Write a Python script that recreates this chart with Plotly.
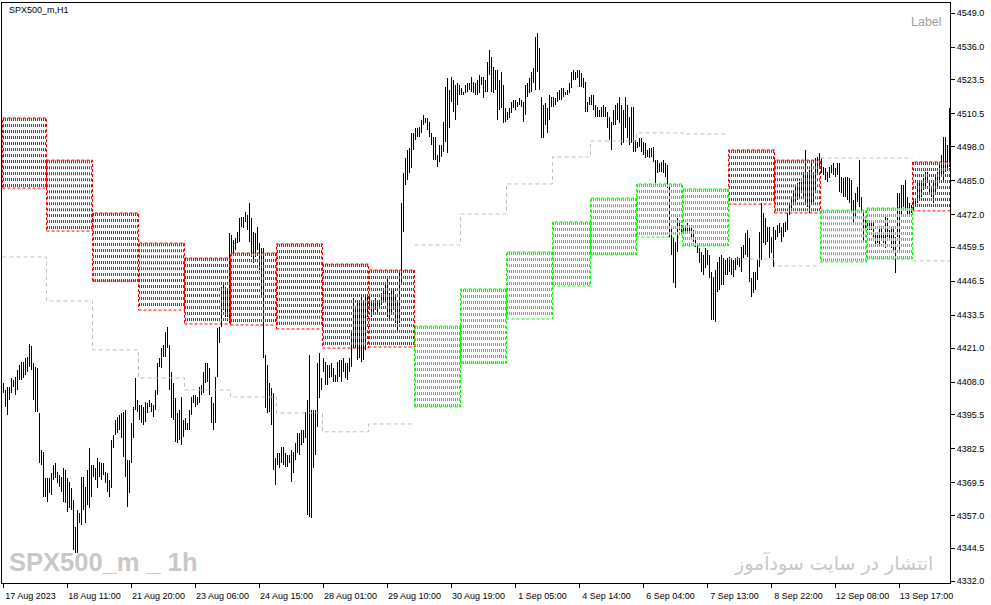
import numpy as np
import plotly.graph_objects as go

# H1 bars, SPX500_m (high / low)
highs = [
    4407.5, 4405.0, 4406.3, 4406.3, 4409.4, 4408.8, 4410.1, 4412.6, 4414.5, 4415.8,
    4415.8, 4417.1, 4417.7, 4422.5, 4421.8, 4415.2, 4413.9, 4413.3, 4396.1, 4382.1,
    4381.4, 4371.2, 4371.2, 4371.2, 4373.1, 4376.3, 4377.0, 4373.8, 4372.5, 4371.9,
    4375.0, 4374.4, 4371.2, 4369.9, 4367.4, 4362.9, 4352.8, 4359.1, 4357.9, 4371.9,
    4371.9, 4368.0, 4374.4, 4382.7, 4376.3, 4376.3, 4375.0, 4378.9, 4377.6, 4377.0,
    4377.0, 4373.8, 4373.1, 4370.6, 4385.9, 4387.8, 4393.5, 4394.8, 4395.4, 4396.1,
    4396.7, 4397.3, 4378.2, 4378.2, 4392.2, 4398.6, 4409.4, 4401.2, 4399.2, 4399.2,
    4398.6, 4400.5, 4399.9, 4401.2, 4399.9, 4399.2, 4405.0, 4415.2, 4417.1, 4420.9,
    4422.2, 4427.3, 4429.2, 4422.2, 4412.0, 4407.5, 4401.8, 4396.1, 4397.3, 4402.4,
    4393.5, 4394.2, 4392.2, 4397.3, 4402.4, 4403.1, 4403.1, 4402.4, 4406.3, 4406.9,
    4412.0, 4415.2, 4415.2, 4413.3, 4402.4, 4399.9, 4410.1, 4428.5, 4429.2, 4444.5,
    4445.7, 4444.5, 4443.2, 4464.8, 4464.2, 4462.3, 4462.9, 4465.5, 4470.6, 4471.2,
    4471.2, 4473.1, 4471.8, 4476.3,
    4470.5, 4465.5, 4464.8, 4467.4, 4461.0, 4459.1, 4459.1, 4418.3, 4414.5, 4407.5,
    4405.6, 4403.7, 4378.9, 4380.8, 4380.8, 4383.3, 4383.3, 4380.8, 4380.1, 4380.1,
    4382.0, 4381.4, 4384.6, 4388.4, 4388.4, 4389.7, 4389.7, 4396.7, 4401.1, 4418.3,
    4397.3, 4397.3, 4397.3, 4415.2, 4419.0, 4409.4, 4417.1, 4415.8, 4414.5, 4414.5,
    4415.2, 4413.3, 4410.7, 4415.8, 4416.4, 4416.4, 4417.1, 4415.2, 4415.2, 4417.1,
    4427.9, 4440.0, 4436.8, 4439.4, 4438.1, 4440.6, 4438.7, 4440.6, 4440.6, 4440.6,
    4439.4, 4438.1, 4440.0, 4439.4, 4438.7, 4441.9, 4443.2, 4445.1, 4447.6, 4441.9,
    4443.2, 4443.2, 4440.6, 4439.4, 4450.2, 4476.3, 4487.7, 4493.5, 4496.7, 4497.3,
    4503.0, 4503.0, 4504.9, 4504.9, 4505.6, 4508.1, 4510.0, 4508.7, 4508.7, 4507.5,
    4503.0, 4501.8, 4501.8, 4494.8, 4498.6, 4498.6, 4507.5, 4520.9, 4524.0, 4519.6,
    4524.7, 4523.4, 4521.5, 4522.1, 4521.5, 4520.2, 4518.9, 4521.5, 4522.1, 4522.1,
    4524.7, 4522.8, 4522.1, 4523.4, 4525.3, 4524.7, 4524.7, 4523.4, 4530.4, 4534.9,
    4532.3, 4528.5, 4527.2, 4527.2, 4523.4,
    4526.6, 4521.5, 4512.6, 4511.3, 4512.6, 4515.1, 4515.8, 4515.8, 4515.1, 4516.4,
    4515.8, 4515.1, 4521.5, 4522.1, 4524.0, 4526.6, 4527.9, 4540.0, 4541.2, 4535.5,
    4517.0, 4513.9, 4514.5, 4512.6, 4517.7, 4517.0, 4517.0, 4516.4, 4518.9, 4519.6,
    4520.2, 4520.2, 4518.9, 4519.6, 4522.1, 4526.6, 4527.2, 4526.6, 4527.2, 4527.2,
    4525.9, 4524.0, 4522.8, 4515.1, 4517.0, 4517.7, 4517.7, 4513.9, 4513.2, 4511.9,
    4513.2, 4513.9, 4513.2, 4511.3, 4509.4, 4507.5, 4511.9, 4513.9, 4514.5, 4517.0,
    4513.9, 4511.9, 4517.0, 4513.9, 4509.4, 4513.2, 4513.2, 4500.5, 4499.8, 4501.1,
    4501.1, 4499.8, 4499.2, 4496.7, 4497.3, 4497.3, 4497.9, 4492.8, 4492.8, 4491.6,
    4492.2, 4492.8, 4491.6, 4490.9, 4483.3, 4466.7, 4462.9, 4461.6, 4470.6, 4469.3,
    4468.0, 4468.0, 4467.4, 4468.6, 4467.4, 4466.7, 4466.1, 4462.9, 4461.0, 4459.1,
    4457.8, 4456.6, 4459.1, 4458.5, 4456.6, 4450.2, 4448.3, 4450.8, 4454.0, 4455.9,
    4456.6, 4455.3, 4454.6, 4455.3, 4455.9, 4455.3, 4454.6, 4455.3, 4455.9, 4455.3,
    4459.7, 4460.4, 4464.8, 4466.1, 4462.9,
    4447.6, 4450.2, 4450.2, 4454.6, 4465.5, 4476.3, 4472.5, 4470.6, 4467.4, 4467.4,
    4463.6, 4467.4, 4466.1, 4468.0, 4468.7, 4467.4, 4468.7, 4469.3, 4472.5, 4476.3,
    4478.8, 4481.4, 4483.3, 4483.9, 4484.6, 4484.6, 4488.4, 4496.7, 4488.4, 4489.0,
    4492.2, 4488.4, 4493.5, 4494.1, 4495.4, 4493.5, 4490.3, 4489.7, 4488.4, 4490.3,
    4490.9, 4491.6, 4489.7, 4491.6, 4491.6, 4486.5, 4485.8, 4486.5, 4486.5, 4485.8,
    4485.2, 4477.6, 4480.1, 4482.7, 4492.8, 4478.8, 4472.5, 4469.9, 4469.3, 4469.3,
    4468.7, 4468.7, 4465.5, 4465.5, 4466.7, 4466.7, 4465.5, 4471.2, 4470.6, 4466.1,
    4466.7, 4467.4, 4463.6, 4480.1, 4480.1, 4483.3, 4483.3, 4485.2, 4478.8, 4476.3,
    4475.7, 4477.6, 4477.6, 4483.9, 4485.2, 4483.9, 4485.8, 4488.4, 4488.4, 4485.2,
    4482.7, 4483.9, 4486.5, 4488.4, 4490.9, 4494.8, 4501.8, 4501.8, 4498.6, 4512.6,
]

lows = [
    4403.7, 4398.6, 4395.4, 4401.2, 4403.7, 4406.3, 4403.1, 4405.0, 4408.8, 4408.8,
    4409.4, 4410.7, 4412.0, 4413.9, 4412.6, 4401.2, 4396.7, 4396.7, 4376.9, 4376.3,
    4364.2, 4364.2, 4362.3, 4365.5, 4364.9, 4370.6, 4371.2, 4369.3, 4368.0, 4366.1,
    4362.3, 4361.7, 4358.5, 4359.8, 4359.1, 4343.8, 4342.6, 4342.6, 4354.0, 4353.4,
    4359.1, 4354.0, 4361.0, 4359.8, 4364.2, 4371.9, 4370.6, 4367.4, 4371.9, 4370.6,
    4372.5, 4369.3, 4366.1, 4364.2, 4367.4, 4382.7, 4387.8, 4388.4, 4389.7, 4386.5,
    4379.5, 4371.9, 4360.4, 4365.5, 4376.9, 4386.5, 4397.3, 4396.7, 4393.5, 4392.2,
    4391.6, 4392.9, 4396.1, 4398.6, 4396.7, 4394.8, 4397.3, 4403.1, 4413.9, 4413.3,
    4417.7, 4417.7, 4420.9, 4405.0, 4394.2, 4393.5, 4385.2, 4384.6, 4385.9, 4384.0,
    4387.1, 4389.7, 4389.7, 4389.7, 4395.4, 4399.9, 4398.6, 4399.2, 4399.9, 4403.1,
    4403.7, 4407.5, 4408.2, 4403.1, 4392.2, 4389.7, 4392.2, 4410.1, 4422.8, 4429.2,
    4435.5, 4433.0, 4433.0, 4430.4, 4456.5, 4456.5, 4458.5, 4461.0, 4461.6, 4467.4,
    4466.7, 4469.3, 4466.1, 4461.6,
    4455.9, 4453.4, 4455.9, 4458.5, 4450.8, 4440.6, 4417.1, 4398.0, 4396.1, 4396.7,
    4391.6, 4374.4, 4368.7, 4376.3, 4375.0, 4377.0, 4376.3, 4375.7, 4375.7, 4377.0,
    4370.0, 4373.1, 4378.2, 4380.8, 4380.1, 4384.0, 4384.6, 4386.5, 4357.2, 4356.6,
    4355.9, 4375.0, 4380.1, 4391.0, 4401.8, 4405.0, 4412.0, 4406.9, 4406.9, 4409.4,
    4410.1, 4408.2, 4408.2, 4408.2, 4410.1, 4408.2, 4412.0, 4409.4, 4408.8, 4412.0,
    4413.9, 4420.9, 4420.9, 4416.4, 4417.1, 4415.8, 4416.4, 4420.3, 4433.0, 4435.5,
    4433.0, 4433.6, 4435.5, 4434.9, 4436.2, 4437.4, 4438.1, 4439.4, 4433.0, 4431.7,
    4433.6, 4435.5, 4430.4, 4427.9, 4430.4, 4445.7, 4465.5, 4483.3, 4485.2, 4487.7,
    4489.7, 4496.7, 4500.5, 4501.8, 4501.8, 4503.0, 4506.2, 4506.8, 4504.3, 4501.8,
    4498.6, 4492.8, 4492.8, 4490.3, 4492.2, 4494.1, 4496.0, 4499.8, 4495.4, 4504.9,
    4515.1, 4511.3, 4508.1, 4513.9, 4517.7, 4517.7, 4517.7, 4518.3, 4518.9, 4519.6,
    4518.9, 4518.3, 4517.7, 4517.7, 4518.3, 4521.5, 4516.4, 4518.9, 4518.9, 4525.3,
    4518.9, 4518.3, 4519.6, 4508.1, 4511.9,
    4512.6, 4506.8, 4507.5, 4508.1, 4508.8, 4510.7, 4512.6, 4511.9, 4513.2, 4513.9,
    4513.2, 4507.5, 4510.0, 4517.0, 4518.3, 4518.9, 4522.1, 4519.6, 4526.6, 4519.6,
    4501.1, 4501.1, 4506.2, 4503.0, 4508.1, 4513.2, 4513.2, 4513.9, 4515.1, 4515.8,
    4515.8, 4517.0, 4517.7, 4517.7, 4518.3, 4520.2, 4523.4, 4523.4, 4524.0, 4520.9,
    4520.9, 4520.2, 4511.3, 4511.3, 4513.9, 4513.9, 4511.9, 4509.4, 4509.4, 4509.4,
    4509.4, 4509.4, 4509.4, 4504.9, 4500.5, 4496.7, 4506.2, 4506.2, 4508.1, 4506.8,
    4498.6, 4499.2, 4504.9, 4501.1, 4498.6, 4499.2, 4496.0, 4496.0, 4497.3, 4497.9,
    4496.0, 4494.8, 4493.5, 4494.1, 4493.5, 4494.1, 4492.2, 4483.9, 4487.7, 4488.4,
    4488.4, 4487.7, 4486.5, 4482.0, 4463.5, 4456.6, 4445.7, 4443.8, 4457.8, 4466.1,
    4464.8, 4465.5, 4464.8, 4464.8, 4464.8, 4462.9, 4461.6, 4459.7, 4457.2, 4453.4,
    4450.2, 4448.9, 4451.5, 4452.7, 4447.6, 4431.7, 4431.7, 4431.1, 4442.5, 4443.2,
    4445.1, 4445.1, 4448.9, 4448.9, 4450.2, 4448.9, 4448.3, 4450.8, 4452.7, 4452.1,
    4450.2, 4455.3, 4456.6, 4455.9, 4446.4,
    4440.6, 4441.9, 4443.2, 4447.0, 4452.1, 4454.6, 4461.0, 4460.4, 4461.6, 4455.3,
    4457.2, 4452.1, 4462.3, 4463.6, 4464.8, 4461.6, 4463.6, 4465.5, 4466.1, 4471.8,
    4474.4, 4476.3, 4476.9, 4477.6, 4478.8, 4481.4, 4478.8, 4476.3, 4475.0, 4472.5,
    4476.3, 4476.9, 4481.4, 4487.7, 4490.3, 4487.7, 4487.1, 4485.2, 4484.6, 4485.8,
    4487.7, 4487.1, 4486.5, 4487.1, 4480.7, 4480.1, 4478.8, 4478.8, 4477.6, 4476.3,
    4472.5, 4469.3, 4471.2, 4476.9, 4475.0, 4473.1, 4461.0, 4466.7, 4466.1, 4466.1,
    4466.1, 4463.6, 4459.7, 4461.0, 4460.4, 4462.3, 4461.0, 4459.1, 4463.6, 4462.3,
    4459.1, 4458.5, 4449.5, 4463.6, 4458.5, 4471.2, 4475.0, 4473.7, 4471.8, 4471.8,
    4472.5, 4473.7, 4475.0, 4476.3, 4477.6, 4478.8, 4481.4, 4482.7, 4483.9, 4479.5,
    4478.8, 4476.3, 4479.5, 4482.7, 4484.6, 4486.5, 4484.6, 4488.4, 4489.0, 4490.3,
]

# time axis labels (every 32 bars)
time_tick_bars = [0, 32, 64, 96, 128, 160, 192, 224, 256, 288, 320, 352, 384, 416, 448]
time_tick_text = [
    "17 Aug 2023", "18 Aug 11:00", "21 Aug 20:00", "23 Aug 06:00", "24 Aug 15:00",
    "28 Aug 01:00", "29 Aug 10:00", "30 Aug 19:00", "1 Sep 05:00", "4 Sep 14:00",
    "6 Sep 04:00", "7 Sep 13:00", "8 Sep 22:00", "12 Sep 08:00", "13 Sep 17:00",
]
price_ticks = [4549.0, 4536.0, 4523.5, 4510.5, 4498.0, 4485.0, 4472.0, 4459.5, 4446.5,
               4433.5, 4421.0, 4408.0, 4395.5, 4382.5, 4369.5, 4357.0, 4344.5, 4332.0]

# daily zones: first bar of each session, zone top / bottom, type, reference level
day_start = [0, 22, 45, 68, 91, 114, 137, 160, 183, 206, 229, 252, 275, 294, 317,
             340, 363, 386, 409, 432, 455]
zone_top = [4508.9, 4492.8, 4472.6, 4461.1, 4455.4, 4457.3, 4460.8, 4453.1, 4450.8,
            4429.4, 4443.6, 4457.7, 4469.2, 4478.3, 4483.7, 4481.8,
            4496.7, 4492.8, 4473.7, 4474.5, 4492.1]
zone_bottom = [4482.1, 4465.7, 4446.6, 4435.5, 4430.2, 4429.8, 4428.3, 4421.0, 4421.4,
               4398.5, 4415.3, 4432.1, 4444.7, 4456.6, 4463.4, 4460.0,
               4476.0, 4472.6, 4453.9, 4455.0, 4473.4]
zone_type = ["R"] * 9 + ["S"] * 7 + ["R", "R", "S", "S", "R"]
ref_level = [4455.8, 4439.0, 4420.3, 4409.6, 4405.0, 4402.3, 4396.2, 4389.0, 4392.0,
             4460.4, 4472.2, 4483.7, 4494.0, 4500.1, 4503.2, 4502.8,
             4455.0, 4452.4, 4493.6, 4493.6, 4454.3]

n_bars = len(highs)
day_end = day_start[1:] + [n_bars]
colors = {"R": "#ff0000", "S": "#00ff00"}
HATCH = 2.29  # spacing of hatch rows (price units)

fig = go.Figure()

# hatched zones
for kind, col in colors.items():
    hx, hy = [], []
    for s, e, top, bot, k in zip(day_start, day_end, zone_top, zone_bottom, zone_type):
        if k != kind:
            continue
        for r in np.arange(top - 0.6, bot, -HATCH):
            hx += [s - 0.25, e - 0.5, None]
            hy += [r, r, None]
        fig.add_shape(type="rect", x0=s - 0.5, x1=e - 0.5, y0=bot, y1=top,
                      line=dict(color=col, width=1, dash="3px,2px"), layer="below")
    fig.add_trace(go.Scatter(x=hx, y=hy, mode="lines", hoverinfo="skip",
                             line=dict(color=col, width=3, dash="1px,1px")))

# grey reference step line
gx, gy = [], []
for i, (s, e, lvl) in enumerate(zip(day_start, day_end, ref_level)):
    if i and zone_type[i] != zone_type[i - 1]:
        gx.append(None)
        gy.append(None)
    gx += [s - 0.5, e - 0.5]
    gy += [lvl, lvl]
fig.add_trace(go.Scatter(x=gx, y=gy, mode="lines", hoverinfo="skip",
                         line=dict(color="#c0c0c0", width=1, dash="4px,3px")))

# price bars (high-low)
hi = np.array(highs)
lo = np.array(lows)
fig.add_trace(go.Bar(x=np.arange(n_bars), y=hi - lo, base=lo, width=0.5,
                     marker=dict(color="black", line=dict(width=0)), hoverinfo="skip"))

fig.add_annotation(text="SPX500_m,H1", xref="paper", yref="paper", x=0.0053, y=0.988,
                   xanchor="left", yanchor="middle", showarrow=False,
                   font=dict(family="Liberation Sans", size=9, color="black"))
fig.add_annotation(text="Label", xref="paper", yref="paper", x=0.9937, y=0.967,
                   xanchor="right", yanchor="middle", showarrow=False,
                   font=dict(family="Liberation Sans", size=12.5, color="#a0a0a0"))
fig.add_annotation(text="<b>SPX500_m _ 1h</b>", xref="paper", yref="paper", x=0.005, y=0.036,
                   xanchor="left", yanchor="middle", showarrow=False,
                   font=dict(family="Liberation Sans", size=25.5, color="#c8c8c8"))
fig.add_annotation(text="انتشار در سایت سودآموز", xref="paper", yref="paper", x=0.9842, y=0.0345,
                   xanchor="right", yanchor="middle", showarrow=False,
                   font=dict(family="DejaVu Sans", size=19, color="#c8c8c8"))

fig.update_layout(
    width=991, height=605,
    margin=dict(l=2, r=41, t=3, b=22),
    plot_bgcolor="white", paper_bgcolor="white",
    showlegend=False, hovermode=False, bargap=0,
    xaxis=dict(range=[-0.75, n_bars - 0.75], tickvals=time_tick_bars, ticktext=time_tick_text,
               ticks="outside", ticklen=4, tickcolor="black", ticklabelshift=27,
               showgrid=False, zeroline=False, showline=True, linecolor="black",
               linewidth=1, mirror=True,
               tickfont=dict(family="Liberation Sans", size=9, color="black")),
    yaxis=dict(range=[4331.24, 4552.82], side="right", tickvals=price_ticks,
               tickformat=".1f", ticks="outside", ticklen=4, tickcolor="black",
               showgrid=False, zeroline=False, showline=True, linecolor="black",
               linewidth=1, mirror=True,
               tickfont=dict(family="Liberation Sans", size=9, color="black")),
)

fig.write_html("out.html", config={"displayModeBar": False},
               post_script="document.body.style.margin='0';document.body.style.overflow='hidden';")
